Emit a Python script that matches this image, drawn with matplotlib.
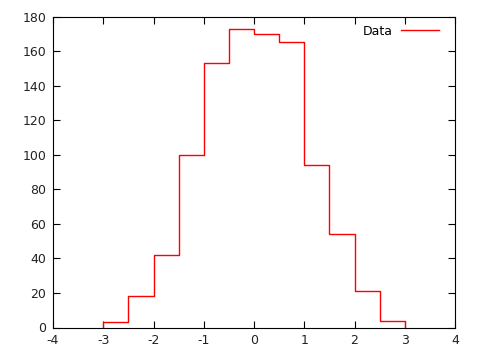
import matplotlib
matplotlib.use("Agg")
import matplotlib.pyplot as plt
import numpy as np

bin_edges = [-3.0, -2.5, -2.0, -1.5, -1.0, -0.5, 0.0, 0.5, 1.0, 1.5, 2.0, 2.5, 3.0]
counts = [3, 18, 42, 100, 153, 173, 170, 165, 94, 54, 21, 4]
x_ticks = [-4, -3, -2, -1, 0, 1, 2, 3, 4]
y_ticks = [0, 20, 40, 60, 80, 100, 120, 140, 160, 180]

plt.rcParams["font.family"] = "DejaVu Sans"
plt.rcParams["font.size"] = 9

fig = plt.figure(figsize=(4.8, 3.6), dpi=100)
ax = fig.add_axes([53 / 480, 1 - 327.5 / 360, (455 - 53) / 480, (327.5 - 16.5) / 360])

edges = np.array(bin_edges)
vals = np.array(counts, dtype=float)
xs = np.repeat(edges, 2)
ys = np.concatenate([[0], np.repeat(vals, 2), [0]])
ax.plot(xs, ys, color="#ff0000", lw=1.0, label="Data")

ax.set_xlim(-4, 4)
ax.set_ylim(0, 180)
ax.set_xticks(x_ticks)
ax.set_xticklabels([str(t) for t in x_ticks])
ax.set_yticks(y_ticks)
ax.tick_params(direction="in", length=5, width=0.8, top=True, right=True, pad=5,
               colors="black", labelcolor="#222222")
for s in ax.spines.values():
    s.set_linewidth(0.8)

# legend: text then sample line, no frame, like gnuplot key
ax.legend(loc="upper right", frameon=False, markerfirst=False, handlelength=3.0,
          bbox_to_anchor=(0.98, 1.0), borderaxespad=0.25, handletextpad=0.7)

fig.savefig("out.png", dpi=100)
